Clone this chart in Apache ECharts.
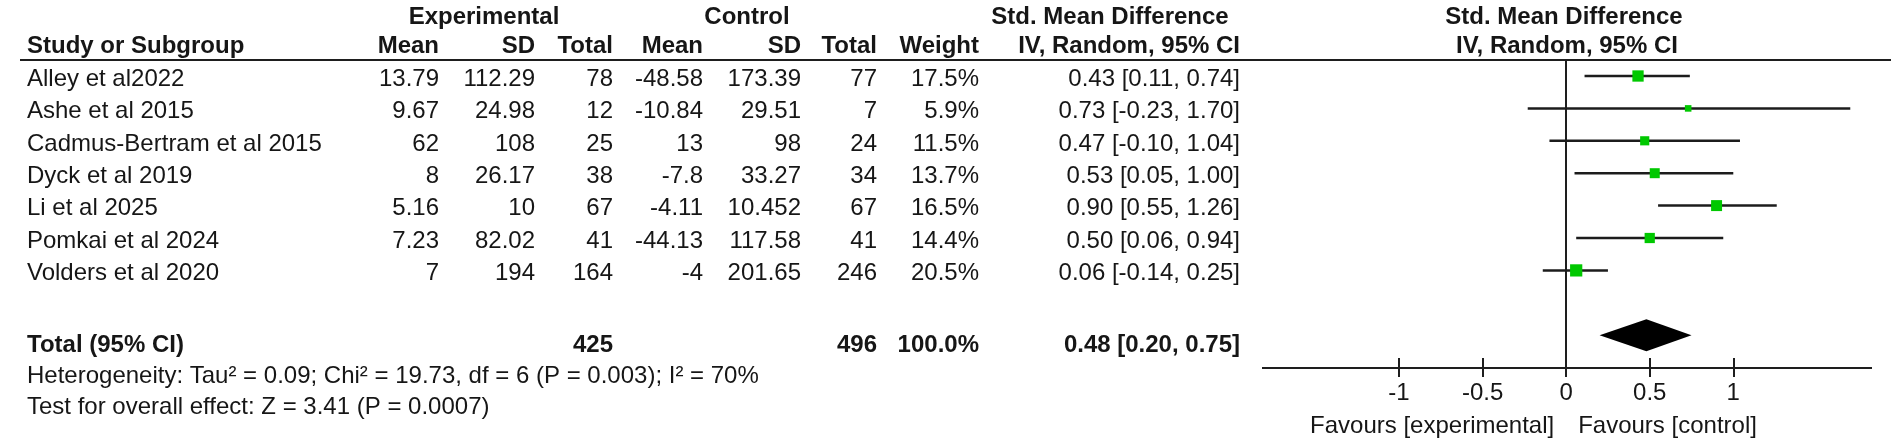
<!DOCTYPE html>
<html>
<head>
<meta charset="utf-8">
<script src="https://cdn.jsdelivr.net/npm/echarts@6.0.0/dist/echarts.min.js"></script>
<style>
html,body{margin:0;padding:0;background:#fff;}
#chart{width:1901px;height:440px;}
</style>
</head>
<body>
<div id="chart"></div>
<script>
// ---------------- data ----------------
var studies = ['Alley et al2022','Ashe et al 2015','Cadmus-Bertram et al 2015','Dyck et al 2019','Li et al 2025','Pomkai et al 2024','Volders et al 2020'];
var expMean = [13.79, 9.67, 62, 8, 5.16, 7.23, 7];
var expSD   = [112.29, 24.98, 108, 26.17, 10, 82.02, 194];
var expN    = [78, 12, 25, 38, 67, 41, 164];
var ctrlMean = [-48.58, -10.84, 13, -7.8, -4.11, -44.13, -4];
var ctrlSD   = [173.39, 29.51, 98, 33.27, 10.452, 117.58, 201.65];
var ctrlN    = [77, 7, 24, 34, 67, 41, 246];
var weights  = [17.5, 5.9, 11.5, 13.7, 16.5, 14.4, 20.5];
var smd      = [0.43, 0.73, 0.47, 0.53, 0.90, 0.50, 0.06];
var ciLow    = [0.11, -0.23, -0.10, 0.05, 0.55, 0.06, -0.14];
var ciHigh   = [0.74, 1.70, 1.04, 1.00, 1.26, 0.94, 0.25];
var totalExpN = 425, totalCtrlN = 496, totalWeight = 100.0;
var totalSmd = 0.48, totalLow = 0.20, totalHigh = 0.75;
var heterogeneityText = 'Heterogeneity: Tau\u00B2 = 0.09; Chi\u00B2 = 19.73, df = 6 (P = 0.003); I\u00B2 = 70%';
var overallText = 'Test for overall effect: Z = 3.41 (P = 0.0007)';
var tickValues = [-1, -0.5, 0, 0.5, 1];
var favoursLeft = 'Favours [experimental]';
var favoursRight = 'Favours [control]';

// ---------------- layout ----------------
var FONT = '"Liberation Sans", Arial, sans-serif';
var FS = 24;
var TXT = '#161616';
var COL = { study: 27, eMean: 439, eSD: 535, eN: 613, cMean: 703, cSD: 801, cN: 877, w: 979, ci: 1240 };
var ROW = { h1: -1.8, h2: -0.9, total: 8.32, het: 9.26, test: 10.22, textShift: 0.1, favours: 10.8 };
var TOTAL_ROW = 8;

function f2(v){ return v.toFixed(2); }
function ciStr(m, l, h){ return f2(m) + ' [' + f2(l) + ', ' + f2(h) + ']'; }

var cells = [];
function cell(x, row, text, bold, align){ cells.push({x:x,row:row,text:String(text),bold:!!bold,align:align||'right'}); }

// headers
cell(484, ROW.h1, 'Experimental', 1, 'center');
cell(747, ROW.h1, 'Control', 1, 'center');
cell(1110, ROW.h1, 'Std. Mean Difference', 1, 'center');
cell(1564, ROW.h1, 'Std. Mean Difference', 1, 'center');
cell(COL.study, ROW.h2, 'Study or Subgroup', 1, 'left');
cell(COL.eMean, ROW.h2, 'Mean', 1);
cell(COL.eSD, ROW.h2, 'SD', 1);
cell(COL.eN, ROW.h2, 'Total', 1);
cell(COL.cMean, ROW.h2, 'Mean', 1);
cell(COL.cSD, ROW.h2, 'SD', 1);
cell(COL.cN, ROW.h2, 'Total', 1);
cell(COL.w, ROW.h2, 'Weight', 1);
cell(COL.ci, ROW.h2, 'IV, Random, 95% CI', 1);
cell(1567, ROW.h2, 'IV, Random, 95% CI', 1, 'center');

for (var i = 0; i < studies.length; i++) {
  var r = i + ROW.textShift;
  cell(COL.study, r, studies[i], 0, 'left');
  cell(COL.eMean, r, expMean[i]);
  cell(COL.eSD, r, expSD[i]);
  cell(COL.eN, r, expN[i]);
  cell(COL.cMean, r, ctrlMean[i]);
  cell(COL.cSD, r, ctrlSD[i]);
  cell(COL.cN, r, ctrlN[i]);
  cell(COL.w, r, weights[i].toFixed(1) + '%');
  cell(COL.ci, r, ciStr(smd[i], ciLow[i], ciHigh[i]));
}
cell(COL.study, ROW.total, 'Total (95% CI)', 1, 'left');
cell(COL.eN, ROW.total, totalExpN, 1);
cell(COL.cN, ROW.total, totalCtrlN, 1);
cell(COL.w, ROW.total, totalWeight.toFixed(1) + '%', 1);
cell(COL.ci, ROW.total, ciStr(totalSmd, totalLow, totalHigh), 1);
cell(COL.study, ROW.het, heterogeneityText, 0, 'left');
cell(COL.study, ROW.test, overallText, 0, 'left');

var studyData = studies.map(function(s, i){ return [smd[i], ciLow[i], ciHigh[i], i, weights[i]]; });

var chart = echarts.init(document.getElementById('chart'), null, {renderer: 'canvas'});

// row mapping: row i -> y = 76 + 32.4*i
var RH = 32.4, R0 = 76;
var AXIS_Y = 368;
var yMaxForest = (AXIS_Y - R0) / RH;
var option = {
  backgroundColor: '#ffffff',
  animation: false,
  grid: [
    { left: 1262, top: 59, width: 610, height: AXIS_Y - 59, outerBoundsMode: 'none', containLabel: false },
    { left: 0, top: 0, width: 1901, height: 440, outerBoundsMode: 'none', containLabel: false }
  ],
  xAxis: [
    { type: 'value', gridIndex: 0, min: -1.82, max: 1.83, position: 'bottom', offset: -10,
      axisLine: { show: false, onZero: false },
      axisTick: { show: true, inside: false, length: 19, customValues: tickValues, lineStyle: { color: '#1e1e1e', width: 2 } },
      axisLabel: { show: true, customValues: tickValues, margin: 23, color: TXT, fontSize: FS, fontFamily: FONT,
        formatter: function(v){ return String(v); } },
      splitLine: { show: false } },
    { type: 'value', gridIndex: 1, min: 0, max: 1901, show: false }
  ],
  yAxis: [
    { type: 'value', gridIndex: 0, inverse: true, min: (59 - R0) / RH, max: yMaxForest, show: false },
    { type: 'value', gridIndex: 1, inverse: true, min: -R0 / RH, max: (440 - R0) / RH, show: false }
  ],
  graphic: [
    { type: 'line', shape: { x1: 20, y1: 60, x2: 1891, y2: 60 }, style: { stroke: '#1e1e1e', lineWidth: 2 }, z: 1 }
  ],
  series: [
    { // table text
      type: 'custom', xAxisIndex: 1, yAxisIndex: 1, clip: false, silent: true,
      data: cells.map(function(c){ return [c.x, c.row]; }),
      encode: { x: 0, y: 1 },
      renderItem: function(params, api){
        var c = cells[params.dataIndex];
        var p = api.coord([api.value(0), api.value(1)]);
        return { type: 'text', x: p[0], y: p[1], style: {
          text: c.text, fill: TXT, align: c.align, verticalAlign: 'middle',
          font: (c.bold ? 'bold ' : '') + FS + 'px ' + FONT } };
      }
    },
    { // study CIs and squares
      type: 'custom', xAxisIndex: 0, yAxisIndex: 0, clip: false, silent: true, z: 3,
      data: studyData,
      encode: { x: [0, 1, 2], y: 3 },
      renderItem: function(params, api){
        var row = api.value(3);
        var a = api.coord([api.value(1), row]);
        var b = api.coord([api.value(2), row]);
        var m = api.coord([api.value(0), row]);
        var s = 2.7 * Math.sqrt(api.value(4));
        return { type: 'group', children: [
          { type: 'line', shape: { x1: a[0], y1: a[1], x2: b[0], y2: b[1] }, style: { stroke: '#1c1c1c', lineWidth: 2.5 } },
          { type: 'rect', shape: { x: m[0] - s / 2, y: m[1] - s / 2, width: s, height: s }, style: { fill: '#00c800' } }
        ] };
      },
      markLine: { silent: true, symbol: 'none', animation: false, z: 2,
        label: { show: false },
        lineStyle: { color: '#1e1e1e', width: 2, type: 'solid' },
        data: [{ xAxis: 0 }, { yAxis: yMaxForest }] }
    },
    { // pooled diamond
      type: 'custom', xAxisIndex: 0, yAxisIndex: 0, clip: false, silent: true, z: 3,
      data: [[totalSmd, totalLow, totalHigh, TOTAL_ROW]],
      encode: { x: [0, 1, 2], y: 3 },
      renderItem: function(params, api){
        var row = api.value(3);
        var l = api.coord([api.value(1), row]);
        var h = api.coord([api.value(2), row]);
        var m = api.coord([api.value(0), row]);
        var hh = 16;
        return { type: 'polygon', shape: { points: [[l[0], l[1]], [m[0], m[1] - hh], [h[0], h[1]], [m[0], m[1] + hh]] },
          style: { fill: '#000' } };
      }
    },
    { // favours labels
      type: 'custom', xAxisIndex: 0, yAxisIndex: 0, clip: false, silent: true,
      data: [[0, ROW.favours]],
      encode: { x: 0, y: 1 },
      renderItem: function(params, api){
        var p = api.coord([api.value(0), api.value(1)]);
        var font = FS + 'px ' + FONT;
        return { type: 'group', children: [
          { type: 'text', x: p[0] - 12, y: p[1], style: { text: favoursLeft, fill: TXT, align: 'right', verticalAlign: 'middle', font: font } },
          { type: 'text', x: p[0] + 12, y: p[1], style: { text: favoursRight, fill: TXT, align: 'left', verticalAlign: 'middle', font: font } }
        ] };
      }
    }
  ]
};
chart.setOption(option);
</script>
</body>
</html>
